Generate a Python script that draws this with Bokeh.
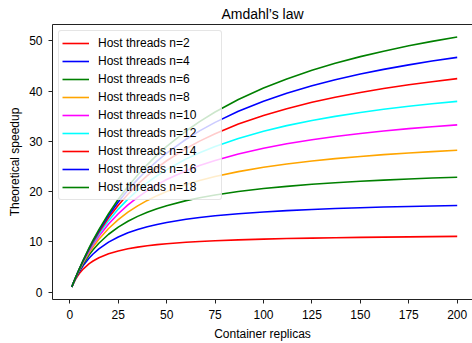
from bokeh.plotting import figure
from bokeh.models import Range1d, FixedTicker, LinearAxis, Legend
from bokeh.embed import file_html
from bokeh.resources import INLINE

replicas = [1, 2, 3, 4, 5, 7, 10, 12, 15, 20, 25, 30, 35, 40, 45, 50, 60, 67, 75, 87, 100,
            112, 125, 137, 150, 162, 175, 187, 200]

threads_2 = [1.0, 1.84, 2.56, 3.18, 3.72, 4.62, 5.64, 6.18, 6.82, 7.61, 8.18, 8.60, 8.94, 9.21, 9.43,
             9.61, 9.90, 10.06, 10.21, 10.39, 10.54, 10.65, 10.74, 10.82, 10.89, 10.94, 10.99, 11.03, 11.07]
threads_4 = [1.0, 1.90, 2.71, 3.45, 4.12, 5.31, 6.76, 7.57, 8.59, 9.94, 10.97, 11.79, 12.45, 13.00, 13.46,
             13.85, 14.48, 14.84, 15.18, 15.59, 15.94, 16.20, 16.44, 16.62, 16.78, 16.92, 17.04, 17.14, 17.24]
threads_6 = [1.0, 1.93, 2.78, 3.58, 4.33, 5.67, 7.41, 8.40, 9.71, 11.50, 12.92, 14.09, 15.06, 15.88, 16.59,
             17.19, 18.20, 18.77, 19.32, 20.01, 20.60, 21.04, 21.45, 21.76, 22.05, 22.29, 22.51, 22.69, 22.86]
threads_8 = [1.0, 1.94, 2.83, 3.66, 4.46, 5.92, 7.84, 8.98, 10.50, 12.65, 14.42, 15.90, 17.16, 18.24, 19.19,
             20.01, 21.40, 22.20, 22.99, 23.97, 24.83, 25.49, 26.09, 26.56, 27.00, 27.35, 27.69, 27.96, 28.23]
threads_10 = [1.0, 1.95, 2.86, 3.72, 4.54, 6.08, 8.15, 9.40, 11.09, 13.53, 15.58, 17.34, 18.86, 20.18, 21.35,
              22.39, 24.14, 25.17, 26.20, 27.49, 28.64, 29.52, 30.33, 30.97, 31.57, 32.06, 32.53, 32.91, 33.28]
threads_12 = [1.0, 1.96, 2.88, 3.76, 4.61, 6.20, 8.38, 9.71, 11.54, 14.21, 16.51, 18.50, 20.24, 21.78, 23.15,
              24.38, 26.49, 27.74, 28.99, 30.59, 32.02, 33.13, 34.16, 34.98, 35.76, 36.38, 36.99, 37.49, 37.97]
threads_14 = [1.0, 1.96, 2.89, 3.79, 4.65, 6.30, 8.56, 9.96, 11.90, 14.77, 17.28, 19.48, 21.43, 23.17, 24.73,
              26.14, 28.58, 30.05, 31.53, 33.44, 35.16, 36.51, 37.77, 38.77, 39.73, 40.51, 41.26, 41.88, 42.49]
threads_16 = [1.0, 1.97, 2.90, 3.81, 4.69, 6.37, 8.71, 10.16, 12.19, 15.23, 17.91, 20.30, 22.43, 24.35, 26.08,
              27.66, 30.42, 32.09, 33.78, 35.98, 37.99, 39.58, 41.06, 42.26, 43.40, 44.33, 45.23, 45.99, 46.72]
threads_18 = [1.0, 1.97, 2.91, 3.83, 4.72, 6.43, 8.83, 10.32, 12.43, 15.62, 18.46, 21.01, 23.30, 25.38, 27.28,
              29.01, 32.06, 33.93, 35.84, 38.33, 40.62, 42.44, 44.15, 45.54, 46.87, 47.96, 49.03, 49.91, 50.78]

series_labels = ["Host threads n=2", "Host threads n=4", "Host threads n=6", "Host threads n=8",
                 "Host threads n=10", "Host threads n=12", "Host threads n=14", "Host threads n=16",
                 "Host threads n=18"]
series_values = [threads_2, threads_4, threads_6, threads_8, threads_10, threads_12, threads_14,
                 threads_16, threads_18]
colors = ["red", "blue", "green", "orange", "magenta", "cyan", "red", "blue", "green"]

x_ticks = [0, 25, 50, 75, 100, 125, 150, 175, 200]
y_ticks = [0, 10, 20, 30, 40, 50]

FONT = "Liberation Sans"
AX = "#222222"

p = figure(width=472, height=343, output_backend="svg", toolbar_location=None,
           x_range=Range1d(-8.95, 207.9), y_range=Range1d(-1.49, 53.27),
           title="Amdahl\u2019s law")
p.min_border_left = 52
p.min_border_right = 0
p.min_border_top = 0
p.min_border_bottom = 5
p.outline_line_color = None
p.grid.visible = False
p.background_fill_color = "white"
p.border_fill_color = "white"

p.title.align = "center"
p.title.text_font = FONT
p.title.text_font_size = "14px"
p.title.text_font_style = "normal"
p.title.text_color = "black"
p.title.offset = 0
p.title.standoff = 6

items = []
for lab, vals, c in zip(series_labels, series_values, colors):
    r = p.line(replicas, vals, line_color=c, line_width=1.6)
    items.append((lab, [r]))

for ax, ticks in ((p.xaxis[0], x_ticks), (p.yaxis[0], y_ticks)):
    ax.ticker = FixedTicker(ticks=ticks)
    ax.minor_tick_line_color = None
    ax.major_tick_in = 0
    ax.major_tick_out = 4
    ax.major_tick_line_color = AX
    ax.axis_line_color = AX
    ax.major_label_text_font = FONT
    ax.major_label_text_font_size = "12px"
    ax.major_label_text_color = "black"
    ax.axis_label_text_font = FONT
    ax.axis_label_text_font_size = "12px"
    ax.axis_label_text_font_style = "normal"
    ax.axis_label_text_color = "black"
    ax.major_label_standoff = 6

p.xaxis[0].axis_label = "Container replicas"
p.yaxis[0].axis_label = "Theoretical speedup"
p.xaxis[0].axis_label_standoff = 5
p.yaxis[0].axis_label_standoff = 4

top = LinearAxis(ticker=FixedTicker(ticks=[]), axis_line_color=AX, axis_line_width=1.2,
                 major_tick_line_color=None, minor_tick_line_color=None,
                 major_label_text_font_size="0px")
p.add_layout(top, "above")

legend = Legend(items=items, location="top_left")
legend.margin = 6
legend.padding = 3
legend.spacing = 0
legend.glyph_width = 27
legend.glyph_height = 18
legend.label_height = 18
legend.label_width = 120
legend.label_standoff = 9
legend.label_text_font = FONT
legend.label_text_font_size = "12px"
legend.label_text_color = "black"
legend.border_line_color = "#cccccc"
legend.border_radius = 3
legend.background_fill_alpha = 0.8
legend.background_fill_color = "white"
p.add_layout(legend)

open("out.html", "w").write(file_html(p, INLINE))
